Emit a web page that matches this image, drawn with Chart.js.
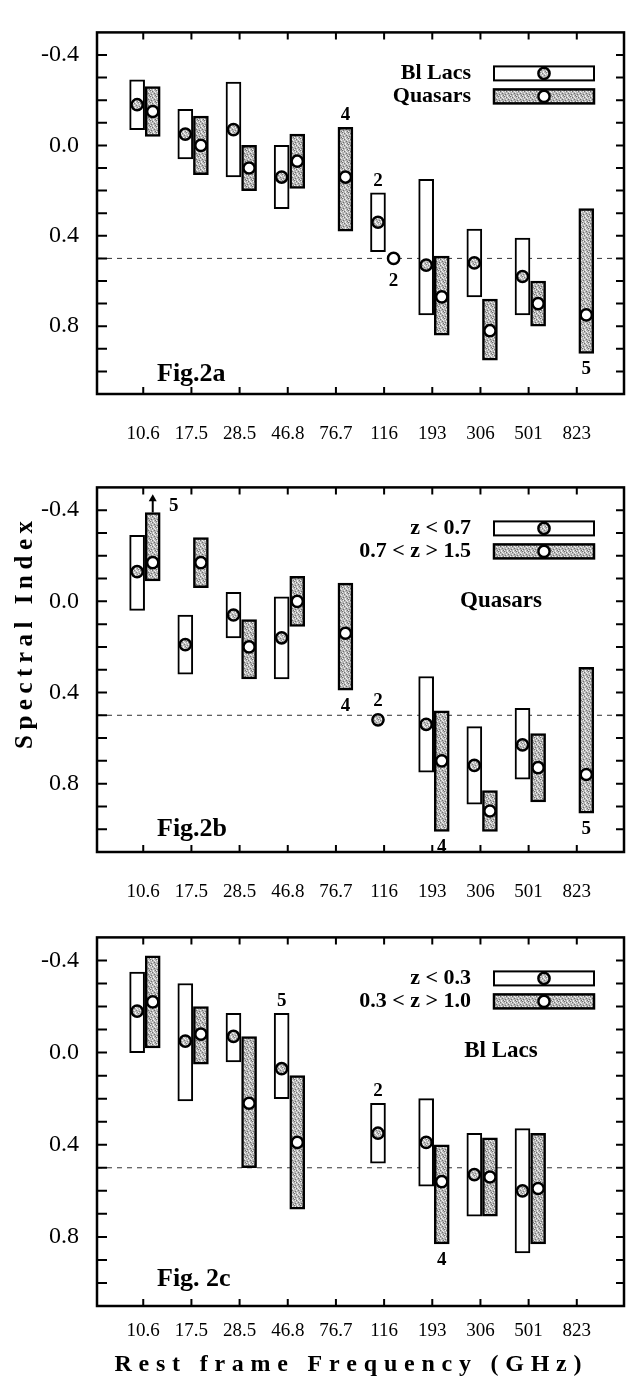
<!DOCTYPE html>
<html>
<head>
<meta charset="utf-8">
<script src="https://cdn.jsdelivr.net/npm/chart.js@4.4.0/dist/chart.umd.min.js"></script>
<style>
  body { margin: 0; background: #fff; }
  #wrap { position: relative; width: 635px; height: 1382px; }
  canvas { position: absolute; left: 0; }
</style>
</head>
<body>
<div id="wrap">
  <canvas id="figA" width="635" height="455" style="top:0px"></canvas>
  <canvas id="figB" width="635" height="450" style="top:455px"></canvas>
  <canvas id="figC" width="635" height="477" style="top:905px"></canvas>
</div>
<script>
// rest frame frequencies (GHz)
const freqLabels = ['10.6', '17.5', '28.5', '46.8', '76.7', '116', '193', '306', '501', '823'];
const yTickVals = [-0.4, 0.0, 0.4, 0.8];

// Fig.2a  Bl Lacs (open boxes) / Quasars (shaded boxes)
const aOpenLow  = [-0.29, -0.16, -0.28, 0.00, null, 0.21, 0.15, 0.37, 0.41, null];
const aOpenHigh = [-0.07, 0.06, 0.14, 0.28, null, 0.47, 0.75, 0.67, 0.75, null];
const aOpenMid  = [-0.18, -0.05, -0.07, 0.14, null, 0.34, 0.53, 0.52, 0.58, null];
const aShadLow  = [-0.26, -0.13, 0.00, -0.05, -0.08, null, 0.49, 0.68, 0.60, 0.28];
const aShadHigh = [-0.04, 0.13, 0.20, 0.19, 0.38, null, 0.84, 0.95, 0.80, 0.92];
const aShadMid  = [-0.15, 0.00, 0.10, 0.07, 0.14, 0.50, 0.67, 0.82, 0.70, 0.75];

// Fig.2b  Quasars z < 0.7 / 0.7 < z > 1.5
const bOpenLow  = [-0.29, 0.06, -0.04, -0.02, null, null, 0.33, 0.55, 0.47, null];
const bOpenHigh = [0.04, 0.32, 0.16, 0.34, null, null, 0.75, 0.89, 0.78, null];
const bOpenMid  = [-0.13, 0.19, 0.06, 0.16, null, 0.52, 0.54, 0.72, 0.63, null];
const bShadLow  = [-0.39, -0.28, 0.08, -0.11, -0.08, null, 0.48, 0.83, 0.58, 0.29];
const bShadHigh = [-0.09, -0.06, 0.34, 0.11, 0.39, null, 1.01, 1.01, 0.88, 0.93];
const bShadMid  = [-0.17, -0.17, 0.20, 0.00, 0.14, null, 0.70, 0.92, 0.73, 0.76];

// Fig.2c  Bl Lacs z < 0.3 / 0.3 < z > 1.0
const cOpenLow  = [-0.35, -0.30, -0.17, -0.17, null, 0.22, 0.20, 0.35, 0.33, null];
const cOpenHigh = [0.00, 0.21, 0.04, 0.20, null, 0.48, 0.58, 0.71, 0.87, null];
const cOpenMid  = [-0.18, -0.05, -0.07, 0.07, null, 0.35, 0.39, 0.53, 0.60, null];
const cShadLow  = [-0.42, -0.20, -0.07, 0.10, null, null, 0.40, 0.37, 0.35, null];
const cShadHigh = [-0.02, 0.05, 0.50, 0.68, null, null, 0.83, 0.71, 0.83, null];
const cShadMid  = [-0.22, -0.08, 0.22, 0.39, null, null, 0.56, 0.54, 0.59, null];

// number of sources written next to some boxes
const aNotes = [
  { i: 4, s: 'b', v: -0.08, t: '4', pos: 'above' },
  { i: 5, s: 'a', v: 0.21, t: '2', pos: 'above' },
  { i: 5, s: 'b', v: 0.53, t: '2', pos: 'below' },
  { i: 9, s: 'b', v: 0.92, t: '5', pos: 'below' }
];
const bNotes = [
  { i: 4, s: 'b', v: 0.39, t: '4', pos: 'below' },
  { i: 5, s: 'a', v: 0.49, t: '2', pos: 'above' },
  { i: 6, s: 'b', v: 1.01, t: '4', pos: 'below' },
  { i: 9, s: 'b', v: 0.93, t: '5', pos: 'below' }
];
const cNotes = [
  { i: 3, s: 'a', v: -0.17, t: '5', pos: 'above' },
  { i: 5, s: 'a', v: 0.22, t: '2', pos: 'above' },
  { i: 6, s: 'b', v: 0.83, t: '4', pos: 'below' }
];
const bArrow = { i: 0, from: -0.39, to: -0.47, t: '5' };

const OFF_A = -0.127;   // open box sits left of the tick
const OFF_B = 0.197;    // shaded box right of the tick
const SERIF = "'Liberation Serif', 'Times New Roman', serif";

Chart.defaults.font.family = SERIF;
Chart.defaults.color = '#000';

function stipple(base, dark, light) {
  const c = document.createElement('canvas');
  c.width = 6; c.height = 6;
  const g = c.getContext('2d');
  g.fillStyle = base; g.fillRect(0, 0, 6, 6);
  g.fillStyle = dark;
  [[0, 0], [2, 1], [4, 3], [1, 4], [5, 5]].forEach(p => g.fillRect(p[0], p[1], 1, 1));
  g.fillStyle = light;
  [[1, 1], [4, 1], [2, 3], [5, 2], [0, 5], [3, 5], [3, 0]].forEach(p => g.fillRect(p[0], p[1], 1, 1));
  return g.createPattern(c, 'repeat');
}
const boxFill = stipple('#b6b6b6', '#707070', '#f0f0f0');
const dotFill = stipple('#bcbcbc', '#808080', '#f4f4f4');

function spaced(ctx, text, cx, cy, width, angle) {
  ctx.save();
  ctx.translate(cx, cy);
  ctx.rotate(angle);
  ctx.textAlign = 'left';
  ctx.textBaseline = 'middle';
  const ws = [...text].map(ch => ctx.measureText(ch).width);
  const natural = ws.reduce((a, b) => a + b, 0);
  const gap = (width - natural) / (text.length - 1);
  let x = -width / 2;
  [...text].forEach((ch, k) => { ctx.fillText(ch, x, 0); x += ws[k] + gap; });
  ctx.restore();
}

function legendBox(ctx, x, y, fill, dot, bw) {
  ctx.save();
  ctx.fillStyle = fill;
  ctx.fillRect(x, y, 100, 14);
  ctx.lineWidth = bw;
  ctx.strokeStyle = '#000';
  ctx.strokeRect(x, y, 100, 14);
  ctx.beginPath();
  ctx.arc(x + 50, y + 7, 5.6, 0, Math.PI * 2);
  ctx.fillStyle = dot;
  ctx.fill();
  ctx.lineWidth = 2.5;
  ctx.stroke();
  ctx.restore();
}

function framePlugin(o) {
  return {
    id: 'frame',
    beforeDatasetsDraw(chart) {
      const { ctx, chartArea: a, scales } = chart;
      const y = scales.y.getPixelForValue(0.5);
      ctx.save();
      ctx.strokeStyle = '#333';
      ctx.lineWidth = 1;
      ctx.setLineDash([5, 5]);
      ctx.beginPath();
      ctx.moveTo(a.left, y);
      ctx.lineTo(a.right, y);
      ctx.stroke();
      ctx.restore();
    },
    afterDraw(chart) {
      const { ctx, chartArea: a, scales } = chart;
      const xs = scales.x, ys = scales.y;
      ctx.save();
      ctx.strokeStyle = '#000';
      ctx.lineWidth = 2.5;
      ctx.strokeRect(a.left, a.top, a.right - a.left, a.bottom - a.top);
      ctx.lineWidth = 2;
      ctx.beginPath();
      for (let k = -4; k <= 10; k++) {
        const py = ys.getPixelForValue(k / 10);
        ctx.moveTo(a.left, py); ctx.lineTo(a.left + 10, py);
        ctx.moveTo(a.right, py); ctx.lineTo(a.right - 8, py);
      }
      freqLabels.forEach((l, i) => {
        const px = xs.getPixelForValue(i);
        ctx.moveTo(px, a.bottom); ctx.lineTo(px, a.bottom - 7);
        ctx.moveTo(px, a.top); ctx.lineTo(px, a.top + 7);
      });
      ctx.stroke();

      // legend
      legendBox(ctx, 494, a.top + 34, '#fff', dotFill, 2);
      legendBox(ctx, 494, a.top + 57, boxFill, '#fff', 2.5);
      ctx.font = 'bold 22px ' + SERIF;
      ctx.fillStyle = '#000';
      ctx.textAlign = 'right';
      ctx.textBaseline = 'middle';
      ctx.fillText(o.nameA, 471, a.top + 41);
      ctx.fillText(o.nameB, 471, a.top + 64);

      if (o.group) {
        ctx.textAlign = 'center';
        ctx.font = 'bold 23px ' + SERIF;
        ctx.fillText(o.group, 501, a.top + 114);
      }

      ctx.textAlign = 'left';
      ctx.font = 'bold 26px ' + SERIF;
      ctx.fillText(o.fig, 157, a.top + 342);

      // source counts
      ctx.font = 'bold 19px ' + SERIF;
      ctx.textAlign = 'center';
      o.notes.forEach(n => {
        const px = xs.getPixelForValue(n.i + (n.s === 'a' ? OFF_A : OFF_B));
        const py = ys.getPixelForValue(n.v) + (n.pos === 'above' ? -12 : 16);
        ctx.fillText(n.t, px, py);
      });

      if (o.arrow) {
        const px = xs.getPixelForValue(o.arrow.i + OFF_B);
        const y0 = ys.getPixelForValue(o.arrow.from);
        const y1 = ys.getPixelForValue(o.arrow.to);
        ctx.lineWidth = 2;
        ctx.beginPath();
        ctx.moveTo(px, y0); ctx.lineTo(px, y1 + 4);
        ctx.stroke();
        ctx.beginPath();
        ctx.moveTo(px - 4, y1 + 7); ctx.lineTo(px, y1); ctx.lineTo(px + 4, y1 + 7);
        ctx.closePath();
        ctx.fill();
        ctx.fillText(o.arrow.t, px + 21, ys.getPixelForValue(-0.42));
      }

      if (o.yTitle) {
        ctx.font = 'bold 25px ' + SERIF;
        spaced(ctx, o.yTitle, 26, 180, 228, -Math.PI / 2);
      }
      if (o.xTitle) {
        ctx.font = 'bold 24px ' + SERIF;
        spaced(ctx, o.xTitle, 348, 460, 467, 0);
      }
      ctx.restore();
    }
  };
}

function boxes(low, high, off) {
  const out = [];
  low.forEach((lo, i) => {
    if (lo !== null) out.push({ x: i + off, y: [lo, high[i]] });
  });
  return out;
}
function dots(mid, off) {
  const out = [];
  mid.forEach((m, i) => {
    if (m !== null) out.push({ x: i + off, y: m });
  });
  return out;
}

function makePanel(id, o) {
  new Chart(document.getElementById(id), {
    type: 'bar',
    data: {
      datasets: [
        { type: 'scatter', label: o.nameA, data: dots(o.openMid, OFF_A), pointRadius: 5.6, pointBorderWidth: 2.5,
          pointBackgroundColor: dotFill, pointBorderColor: '#000', order: 1 },
        { type: 'scatter', label: o.nameB, data: dots(o.shadMid, OFF_B), pointRadius: 5.6, pointBorderWidth: 2.5,
          pointBackgroundColor: '#fff', pointBorderColor: '#000', order: 1 },
        { label: o.nameA, data: boxes(o.openLow, o.openHigh, OFF_A), backgroundColor: '#fff', borderColor: '#000',
          borderWidth: 2, borderSkipped: false, barThickness: 15, grouped: false, order: 2 },
        { label: o.nameB, data: boxes(o.shadLow, o.shadHigh, OFF_B), backgroundColor: boxFill, borderColor: '#000',
          borderWidth: 2.5, borderSkipped: false, barThickness: 15, grouped: false, order: 2 }
      ]
    },
    options: {
      responsive: false,
      animation: false,
      layout: { padding: { top: o.top, right: 11, left: 0, bottom: 0 } },
      plugins: { legend: { display: false }, tooltip: { enabled: false } },
      scales: {
        x: {
          type: 'linear', min: -0.96, max: 9.98, offset: false,
          grid: { display: false, drawTicks: false }, border: { display: false },
          afterBuildTicks: s => { s.ticks = freqLabels.map((l, i) => ({ value: i })); },
          afterFit: s => { s.height = o.h - o.bottom; },
          ticks: { padding: o.labelPad, autoSkip: false, maxRotation: 0, font: { size: 19 },
                   callback: v => freqLabels[v] }
        },
        y: {
          min: -0.5, max: 1.1, reverse: true,
          grid: { display: false, drawTicks: false }, border: { display: false },
          afterBuildTicks: s => { s.ticks = yTickVals.map(v => ({ value: v })); },
          afterFit: s => { s.width = 97; },
          ticks: { padding: 18, font: { size: 24 }, callback: v => v === 0 ? '0.0' : v.toFixed(1) }
        }
      }
    },
    plugins: [framePlugin(o)]
  });
}

makePanel('figA', {
  h: 455, top: 9.5, bottom: 394, labelPad: 29,
  nameA: 'Bl Lacs', nameB: 'Quasars', fig: 'Fig.2a', notes: aNotes,
  openLow: aOpenLow, openHigh: aOpenHigh, openMid: aOpenMid,
  shadLow: aShadLow, shadHigh: aShadHigh, shadMid: aShadMid
});
makePanel('figB', {
  h: 450, top: 12, bottom: 397, labelPad: 29,
  nameA: 'z < 0.7', nameB: '0.7 < z > 1.5', fig: 'Fig.2b', group: 'Quasars', notes: bNotes, arrow: bArrow,
  yTitle: 'Spectral Index',
  openLow: bOpenLow, openHigh: bOpenHigh, openMid: bOpenMid,
  shadLow: bShadLow, shadHigh: bShadHigh, shadMid: bShadMid
});
makePanel('figC', {
  h: 477, top: 17, bottom: 401, labelPad: 14,
  nameA: 'z < 0.3', nameB: '0.3 < z > 1.0', fig: 'Fig. 2c', group: 'Bl Lacs', notes: cNotes,
  xTitle: 'Rest frame Frequency (GHz)',
  openLow: cOpenLow, openHigh: cOpenHigh, openMid: cOpenMid,
  shadLow: cShadLow, shadHigh: cShadHigh, shadMid: cShadMid
});
</script>
</body>
</html>
